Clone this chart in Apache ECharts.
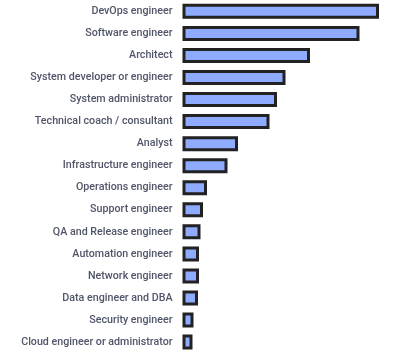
<!DOCTYPE html>
<html><head><meta charset="utf-8">
<script src="https://cdn.jsdelivr.net/npm/echarts@6/dist/echarts.min.js"></script>
<style>html,body{margin:0;padding:0;background:#fff}#c{width:413px;height:358px}</style>
</head><body><div id="c"></div>
<script>
const categories = ["DevOps engineer","Software engineer","Architect","System developer or engineer","System administrator","Technical coach / consultant","Analyst","Infrastructure engineer","Operations engineer","Support engineer","QA and Release engineer","Automation engineer","Network engineer","Data engineer and DBA","Security engineer","Cloud engineer or administrator"];
const values = [39.3,35.4,25.5,20.6,18.9,17.4,11.1,9.0,4.9,4.1,3.6,3.3,3.3,3.1,2.2,2.0];

const chart = echarts.init(document.getElementById('c'), null, {renderer:'canvas'});
chart.setOption({
  animation:false,
  grid:{left:182.5, top:0.3, width:200, height:352.8},
  xAxis:{type:'value', min:0, max:40, show:false},
  yAxis:{type:'category', data:categories, inverse:true,
    axisLine:{show:false}, axisTick:{show:false}, splitLine:{show:false},
    axisLabel:{color:'#505569', fontFamily:'Roboto', fontSize:10.7, margin:10, fontWeight:500}},
  series:[{type:'bar', data:values, barWidth:15,
    itemStyle:{color:'#8eabff', borderColor:'#222222', borderWidth:3}}]
});
</script></body></html>
